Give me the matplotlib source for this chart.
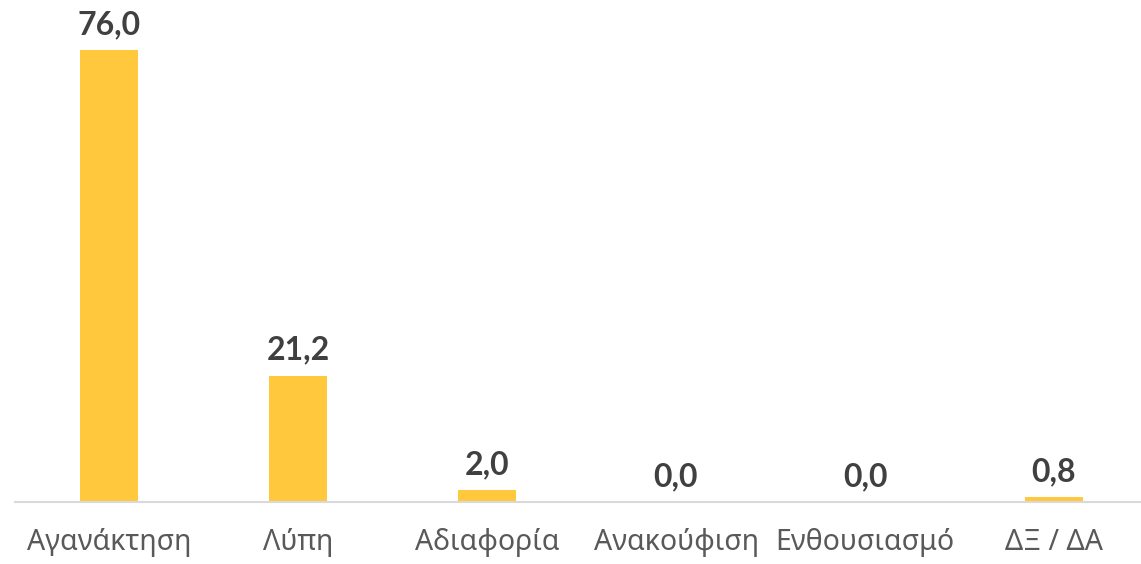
import matplotlib.pyplot as plt

categories = ['Αγανάκτηση', 'Λύπη', 'Αδιαφορία', 'Ανακούφιση', 'Ενθουσιασμό', 'ΔΞ / ΔΑ']
values = [76.0, 21.2, 2.0, 0.0, 0.0, 0.8]
labels = ['76,0', '21,2', '2,0', '0,0', '0,0', '0,8']

fig = plt.figure(figsize=(11.41, 5.64), dpi=100)
# axes spans the full category range, last slot is slightly clipped like the original
ax = fig.add_axes([14.5 / 1141, 62 / 564, 1134 / 1141, 502 / 564])

x = range(len(categories))
ax.bar(x, values, width=0.31, color='#FFC83D')
ax.set_xlim(-0.5, len(categories) - 0.5)
ax.set_ylim(0, 84.4)

for i, (v, t) in enumerate(zip(values, labels)):
    ax.annotate(t, (i, v), xytext=(0, 8), textcoords='offset points',
                ha='center', va='bottom', fontsize=23, fontweight='bold',
                color='#404040', family=['Lato', 'DejaVu Sans'])

ax.set_xticks(list(x))
ax.set_xticklabels(categories, fontsize=20.5, color='#595959',
                   family=['Noto Sans', 'DejaVu Sans'])
ax.tick_params(axis='x', length=0, pad=19)
ax.set_yticks([])
for s in ['top', 'right', 'left']:
    ax.spines[s].set_visible(False)
ax.spines['bottom'].set_color('#D9D9D9')
ax.spines['bottom'].set_linewidth(1.5)

fig.savefig('out.png', dpi=100)
